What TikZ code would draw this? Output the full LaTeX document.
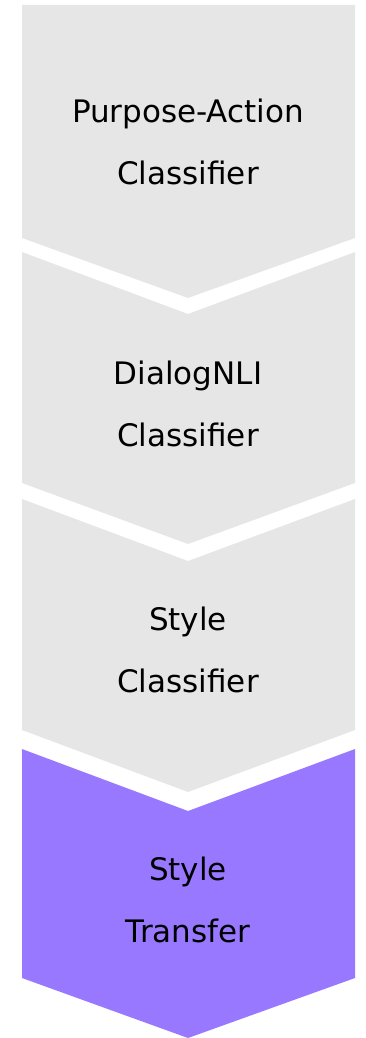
\documentclass[tikz,border=0pt]{standalone}
\usepackage{fontspec}
\setmainfont{DejaVu Sans}
\usepackage{xcolor}
\definecolor{stagegray}{HTML}{E7E6E6}
\definecolor{stagepurple}{HTML}{9878FF}

\begin{document}
\begin{tikzpicture}[
  x=1pt, y=-1pt,
  every node/.style={font=\fontsize{31}{62}\selectfont,align=center,inner sep=0pt},
  stage/.style={fill=stagegray},
  laststage/.style={fill=stagepurple},
]
\useasboundingbox (0,0) rectangle (366,1038);

% pipeline stages, top to bottom
\fill[stage] (22,5) -- (355,5) -- (355,238) -- (188,298) -- (22,238) -- cycle;
\fill[stage] (22,252) -- (188,314) -- (355,252) -- (355,483) -- (188,544) -- (22,483) -- cycle;
\fill[stage] (22,499) -- (188,561) -- (355,499) -- (355,730) -- (188,792) -- (22,730) -- cycle;
\fill[laststage] (22,749) -- (188,811) -- (355,749) -- (355,978) -- (188,1038) -- (22,978) -- cycle;

% labels
\node (purpose) at (188,141.5) {Purpose-Action\\Classifier};
\node (nli)     at (188,404)   {DialogNLI\\Classifier};
\node (style)   at (188,650)   {Style\\Classifier};
\node (transfer) at (188,900)  {Style\\Transfer};
\end{tikzpicture}
\end{document}
